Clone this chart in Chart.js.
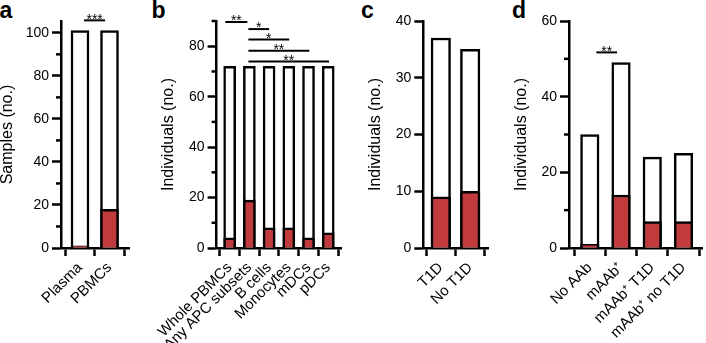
<!DOCTYPE html>
<html><head><meta charset="utf-8">
<script src="https://cdn.jsdelivr.net/npm/chart.js@4/dist/chart.umd.min.js"></script>
<style>
html,body{margin:0;padding:0;background:#fff;}
body{width:706px;height:343px;position:relative;overflow:hidden;font-family:'Liberation Sans',Arial,sans-serif;}
.panel{position:absolute;top:0;height:343px;}
.letter{position:absolute;top:-1.5px;font-weight:bold;font-size:23px;line-height:23px;color:#000;}
</style></head><body>
<div class="letter" style="left:-0.5px">a</div>
<div class="letter" style="left:151.5px">b</div>
<div class="letter" style="left:361px">c</div>
<div class="letter" style="left:512px">d</div>
<div class="panel" style="left:0px;width:130px"><canvas id="ca"></canvas></div>
<div class="panel" style="left:152px;width:191px"><canvas id="cb"></canvas></div>
<div class="panel" style="left:368px;width:121px"><canvas id="cc"></canvas></div>
<div class="panel" style="left:514px;width:189px"><canvas id="cd"></canvas></div>
<script>
// ---- data ----
const catsA = ['Plasma', 'PBMCs'];
const totalA = [101, 101];
const posA = [1, 18];
const yLabelsA = [0, 20, 40, 60, 80, 100];
const sigA = [{from: 0.14, to: 0.85, y: 105.8, label: '***'}];

const catsB = ['Whole PBMCs', 'Any APC subsets', 'B cells', 'Monocytes', 'mDCs', 'pDCs'];
const totalB = [72, 72, 72, 72, 72, 72];
const posB = [4, 19, 8, 8, 4, 6];
const yLabelsB = [0, 20, 40, 60, 80];
const sigB = [
  {from: -0.22, to: 0.9, y: 89.6, label: '**'},
  {from: 0.95, to: 2.0, y: 86.8, label: '*'},
  {from: 0.95, to: 3.02, y: 82.7, label: '*'},
  {from: 0.95, to: 4.04, y: 78.2, label: '**'},
  {from: 0.95, to: 5.04, y: 73.9, label: '**'}
];

const catsC = ['T1D', 'No T1D'];
const totalC = [37, 35];
const posC = [9, 10];
const yLabelsC = [0, 10, 20, 30, 40];
const sigC = [];

const catsD = ['No AAb', 'mAAb\u207A', 'mAAb\u207A T1D', 'mAAb\u207A no T1D'];
const totalD = [30, 49, 24, 25];
const posD = [1, 14, 7, 7];
const yLabelsD = [0, 20, 40, 60];
const sigD = [{from: 0.21, to: 0.87, y: 51.7, label: '**'}];

// ---- drawing ----
const FONT = "'Liberation Sans', Arial, sans-serif";
const RED = '#c13a3c';
const LW = 2.5;

function makeChart(id, cats, total, pos, yLabels, sig, o) {
  const overlay = {
    id: 'overlay' + id,
    afterDraw(chart) {
      const {ctx, scales: {x, y}, chartArea} = chart;
      ctx.save();
      ctx.strokeStyle = '#000';
      ctx.fillStyle = '#000';
      ctx.lineWidth = LW;
      y.ticks.forEach(t => {
        if (!yLabels.includes(t.value)) {
          const py = y.getPixelForValue(t.value);
          ctx.beginPath();
          ctx.moveTo(chartArea.left - 5, py);
          ctx.lineTo(chartArea.left, py);
          ctx.stroke();
        }
      });
      ctx.lineWidth = 2;
      ctx.font = '14px ' + FONT;
      ctx.textAlign = 'center';
      ctx.textBaseline = 'alphabetic';
      sig.forEach(s => {
        const x1 = x.getPixelForValue(s.from), x2 = x.getPixelForValue(s.to);
        const py = y.getPixelForValue(s.y);
        ctx.beginPath();
        ctx.moveTo(x1, py);
        ctx.lineTo(x2, py);
        ctx.stroke();
        ctx.fillText(s.label, (x1 + x2) / 2, py + 3.3);
      });
      ctx.restore();
    }
  };
  return new Chart(document.getElementById(id), {
    type: 'bar',
    data: {
      datasets: [
        {label: 'Positive', data: cats.map((c, i) => ({x: i, y: pos[i]})),
         backgroundColor: RED, borderColor: '#000', borderWidth: LW, borderSkipped: 'start',
         barThickness: o.bw, grouped: false, order: 0},
        {label: 'Total', data: cats.map((c, i) => ({x: i, y: total[i]})),
         backgroundColor: '#fff', borderColor: '#000', borderWidth: LW, borderSkipped: 'start',
         barThickness: o.bw, grouped: false, order: 1}
      ]
    },
    options: {
      responsive: true, maintainAspectRatio: false, animation: false,
      layout: {padding: {top: 21, left: 0, right: 0, bottom: 0}},
      plugins: {legend: {display: false}, tooltip: {enabled: false}},
      scales: {
        x: {
          type: 'linear', min: o.xmin, max: o.xmax, offset: false,
          grid: {drawOnChartArea: false, drawTicks: true, tickLength: 8, tickWidth: LW, tickColor: '#000'},
          border: {display: true, color: '#000', width: LW},
          ticks: {stepSize: 1, includeBounds: false, autoSkip: false, maxRotation: 45, minRotation: 45,
                  color: '#000', font: {size: 15, family: FONT}, padding: 3,
                  callback: v => (cats[v] !== undefined ? cats[v] : '')},
          afterFit(s) { s.height = 95; }
        },
        y: {
          type: 'linear', min: 0, max: o.ymax,
          grid: {drawOnChartArea: false, drawTicks: true, tickLength: 9, tickWidth: LW,
                 tickColor: c => (c.tick && yLabels.includes(c.tick.value)) ? '#000' : 'rgba(0,0,0,0)'},
          border: {display: true, color: '#000', width: LW},
          ticks: {stepSize: 10, includeBounds: false, autoSkip: false, color: '#000',
                  font: {size: 14, family: FONT}, padding: 3,
                  callback: v => (yLabels.includes(v) ? String(v) : '')},
          title: {display: true, text: o.title, color: '#000', font: {size: 16, family: FONT, lineHeight: 1}, padding: 0},
          afterFit(s) { s.width = o.yw; }
        }
      }
    },
    plugins: [overlay]
  });
}

makeChart('ca', catsA, totalA, posA, yLabelsA, sigA,
  {bw: 18, xmin: -0.644, xmax: 1.695, ymax: 105.5, yw: 61, title: 'Samples (no.)'});
makeChart('cb', catsB, totalB, posB, yLabelsB, sigB,
  {bw: 12, xmin: -0.663, xmax: 5.695, ymax: 90, yw: 55.7, title: 'Individuals (no.)'});
makeChart('cc', catsC, totalC, posC, yLabelsC, sigC,
  {bw: 19.5, xmin: -0.595, xmax: 1.64, ymax: 40, yw: 55.3, title: 'Individuals (no.)'});
makeChart('cd', catsD, totalD, posD, yLabelsD, sigD,
  {bw: 18.5, xmin: -0.666, xmax: 3.624, ymax: 60, yw: 55, title: 'Individuals (no.)'});
</script>
</body></html>
